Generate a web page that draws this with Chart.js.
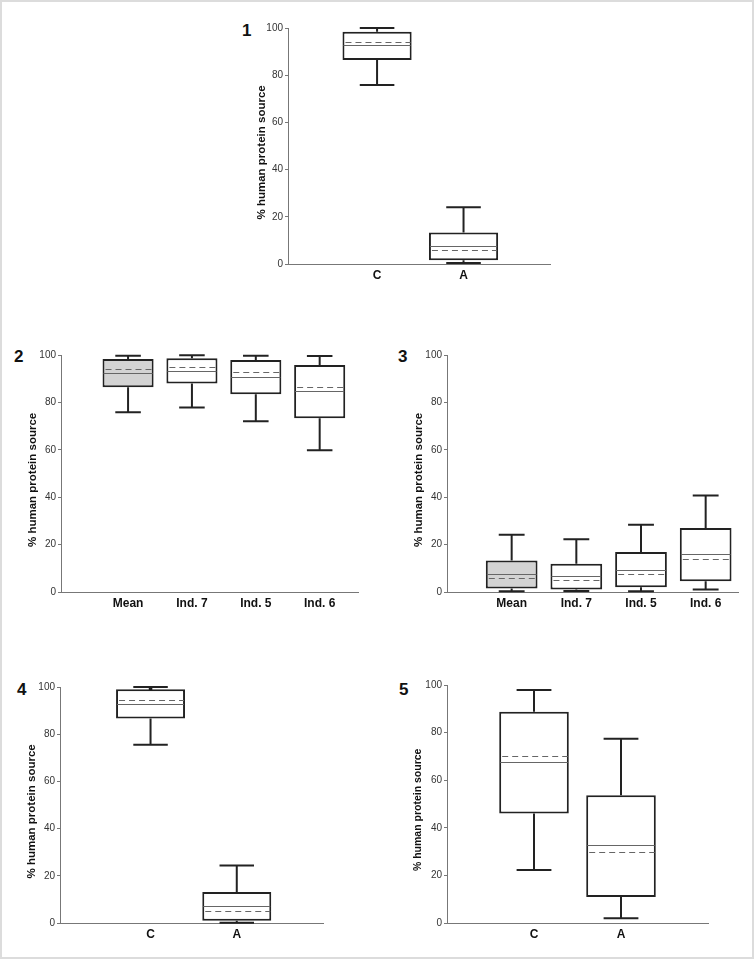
<!DOCTYPE html>
<html>
<head>
<meta charset="utf-8">
<script src="https://cdn.jsdelivr.net/npm/chart.js@4.4.0/dist/chart.umd.min.js"></script>
<style>
html, body { margin: 0; padding: 0; background: #fff; }
#frame { position: absolute; left: 0; top: 0; width: 754px; height: 959px; box-sizing: border-box; border: 2px solid #dcdcdc; }
canvas { position: absolute; }
.num { position: absolute; font: bold 17px "Liberation Sans", Arial, sans-serif; line-height: 17px; color: #111; }
</style>
</head>
<body>
<div id="frame"></div>
<div class="num" style="left:242px;top:22px">1</div>
<div class="num" style="left:14px;top:348px">2</div>
<div class="num" style="left:398px;top:348px">3</div>
<div class="num" style="left:17px;top:681px">4</div>
<div class="num" style="left:399px;top:681px">5</div>
<canvas id="c1"></canvas>
<canvas id="c2"></canvas>
<canvas id="c3"></canvas>
<canvas id="c4"></canvas>
<canvas id="c5"></canvas>
<script>
// y ticks shared by all panels
const yTicks = [0, 20, 40, 60, 80, 100];
// trailing spaces push the rotated title a little lower, like the original
const yTitle = "% human protein source    ";

// panel 1
const p1Cats = ["C", "A"];
const p1Min = [75.8, 0.4];
const p1Q1 = [86.4, 1.6];
const p1Med = [92.7, 7.6];
const p1Mean = [94.2, 6.1];
const p1Q3 = [98.4, 13.3];
const p1Max = [100, 24.0];

// panel 2
const p2Cats = ["Mean", "Ind. 7", "Ind. 5", "Ind. 6"];
const p2Min = [75.8, 77.8, 72.0, 59.8];
const p2Q1 = [86.4, 88.0, 83.4, 73.3];
const p2Med = [92.4, 93.3, 90.9, 84.7];
const p2Mean = [94.1, 95.1, 92.7, 86.5];
const p2Q3 = [98.3, 98.6, 97.9, 95.8];
const p2Max = [99.7, 99.9, 99.7, 99.6];

// panel 3
const p3Cats = ["Mean", "Ind. 7", "Ind. 5", "Ind. 6"];
const p3Min = [0.3, 0.4, 0.3, 1.1];
const p3Q1 = [1.5, 1.1, 2.0, 4.5];
const p3Med = [7.4, 6.7, 9.4, 15.9];
const p3Mean = [5.9, 5.2, 7.6, 13.9];
const p3Q3 = [13.3, 11.9, 16.9, 27.0];
const p3Max = [24.2, 22.3, 28.4, 40.7];

// panel 4
const p4Cats = ["C", "A"];
const p4Min = [75.5, 0.1];
const p4Q1 = [86.6, 1.0];
const p4Med = [92.8, 7.2];
const p4Mean = [94.6, 5.2];
const p4Q3 = [99.0, 13.1];
const p4Max = [100, 24.4];
const p4Outlier = [99.3, null];

// panel 5
const p5Cats = ["C", "A"];
const p5Min = [22.3, 2.0];
const p5Q1 = [46.0, 10.9];
const p5Med = [67.6, 32.7];
const p5Mean = [70.0, 30.0];
const p5Q3 = [88.8, 53.7];
const p5Max = [97.9, 77.4];

const FONT = '"Liberation Sans", Arial, sans-serif';

function makePanel(id, area, xRange, cats, stats, opt) {
	const canvas = document.getElementById(id);
	const yAxisW = 60;
	const xAxisH = 30;
	const padTop = 12;
	const padRight = 6;
	canvas.width = area.right - area.left + yAxisW + padRight;
	canvas.height = area.bottom - area.top + padTop + xAxisH;
	canvas.style.left = area.left - yAxisW + "px";
	canvas.style.top = area.top - padTop + "px";

	// whiskers, median (solid) and mean (dashed)
	const boxExtras = {
		id: "boxExtras",
		afterDatasetsDraw(chart) {
			const { ctx, scales } = chart;
			const x = scales.x;
			const y = scales.y;
			const bars = chart.getDatasetMeta(0).data;
			ctx.save();
			cats.forEach((c, i) => {
				const bar = bars[i];
				const cx = x.getPixelForValue(i + 1);
				const half = bar.width / 4;
				const left = cx - bar.width / 2 + 1;
				const right = cx + bar.width / 2 - 1;
				const yMax = y.getPixelForValue(stats.max[i]);
				const yMin = y.getPixelForValue(stats.min[i]);
				const yQ1 = y.getPixelForValue(stats.q1[i]);
				const yQ3 = y.getPixelForValue(stats.q3[i]);

				ctx.strokeStyle = "#222";
				ctx.lineWidth = 2;
				ctx.setLineDash([]);
				ctx.beginPath();
				ctx.moveTo(cx, yQ3);
				ctx.lineTo(cx, yMax);
				ctx.moveTo(cx - half, yMax);
				ctx.lineTo(cx + half, yMax);
				ctx.moveTo(cx, yQ1);
				ctx.lineTo(cx, yMin);
				ctx.moveTo(cx - half, yMin);
				ctx.lineTo(cx + half, yMin);
				ctx.stroke();

				ctx.strokeStyle = "#666";
				ctx.lineWidth = 1;
				const yMed = Math.round(y.getPixelForValue(stats.med[i])) + 0.5;
				ctx.beginPath();
				ctx.moveTo(left, yMed);
				ctx.lineTo(right, yMed);
				ctx.stroke();

				const yMean = Math.round(y.getPixelForValue(stats.mean[i])) + 0.5;
				ctx.setLineDash([6, 4]);
				ctx.beginPath();
				ctx.moveTo(left + 2, yMean);
				ctx.lineTo(right, yMean);
				ctx.stroke();
			});
			ctx.restore();
		},
	};

	const datasets = [
		{
			type: "bar",
			data: cats.map((c, i) => ({ x: i + 1, y: [stats.q1[i], stats.q3[i]] })),
			backgroundColor: cats.map((c) => (c === "Mean" ? "#d3d3d3" : "#ffffff")),
			borderColor: "#222",
			borderWidth: 2,
			borderSkipped: false,
			barPercentage: 0.8,
			categoryPercentage: 1,
		},
	];
	if (opt.outlier) {
		datasets.push({
			type: "scatter",
			data: cats
				.map((c, i) => ({ x: i + 1, y: opt.outlier[i] }))
				.filter((d) => d.y !== null),
			pointStyle: "rect",
			pointRadius: 2.5,
			backgroundColor: "#111",
			borderWidth: 0,
		});
	}

	return new Chart(canvas, {
		type: "bar",
		data: { datasets },
		options: {
			responsive: false,
			animation: false,
			layout: { padding: { top: padTop, right: padRight, left: 0, bottom: 0 } },
			scales: {
				x: {
					type: "linear",
					offset: false,
					min: xRange[0],
					max: xRange[1],
					afterBuildTicks: (axis) => {
						axis.ticks = cats.map((c, i) => ({ value: i + 1 }));
					},
					afterFit: (axis) => {
						axis.height = xAxisH;
					},
					grid: { display: false, drawTicks: false, offset: false },
					border: { display: true, color: "#777", width: 1 },
					ticks: {
						autoSkip: false,
						maxRotation: 0,
						padding: 4,
						color: "#111",
						font: { family: FONT, size: 12, weight: "bold" },
						callback: (v) => cats[Math.round(v) - 1] || "",
					},
				},
				y: {
					min: 0,
					max: 100,
					afterBuildTicks: (axis) => {
						axis.ticks = yTicks.map((v) => ({ value: v }));
					},
					afterFit: (axis) => {
						axis.width = yAxisW;
					},
					grid: { drawOnChartArea: false, drawTicks: true, tickLength: 3, color: "#777" },
					border: { display: true, color: "#777", width: 1 },
					ticks: {
						padding: 2,
						color: "#333",
						font: { family: FONT, size: 10 },
					},
					title: {
						display: true,
						text: yTitle,
						color: "#111",
						padding: { top: opt.titlePad, bottom: 0 },
						font: { family: FONT, size: opt.titleSize, weight: "bold" },
					},
				},
			},
			plugins: {
				legend: { display: false },
				tooltip: { enabled: false },
			},
		},
		plugins: [boxExtras],
	});
}

function statsOf(min, q1, med, mean, q3, max) {
	return { min, q1, med, mean, q3, max };
}

makePanel("c1", { left: 288, right: 550, top: 28, bottom: 264 }, [-0.03, 3], p1Cats,
	statsOf(p1Min, p1Q1, p1Med, p1Mean, p1Q3, p1Max), { titlePad: 27, titleSize: 11.5 });
makePanel("c2", { left: 61, right: 358, top: 355, bottom: 592 }, [-0.05, 4.6], p2Cats,
	statsOf(p2Min, p2Q1, p2Med, p2Mean, p2Q3, p2Max), { titlePad: 25, titleSize: 11.5 });
makePanel("c3", { left: 447, right: 738, top: 355, bottom: 592 }, [0, 4.5], p3Cats,
	statsOf(p3Min, p3Q1, p3Med, p3Mean, p3Q3, p3Max), { titlePad: 25, titleSize: 11.5 });
makePanel("c4", { left: 60, right: 323, top: 687, bottom: 923 }, [-0.05, 3], p4Cats,
	statsOf(p4Min, p4Q1, p4Med, p4Mean, p4Q3, p4Max), { titlePad: 25, titleSize: 11.5, outlier: p4Outlier });
makePanel("c5", { left: 447, right: 708, top: 685, bottom: 923 }, [0, 3], p5Cats,
	statsOf(p5Min, p5Q1, p5Med, p5Mean, p5Q3, p5Max), { titlePad: 25, titleSize: 10.5 });
</script>
</body>
</html>
